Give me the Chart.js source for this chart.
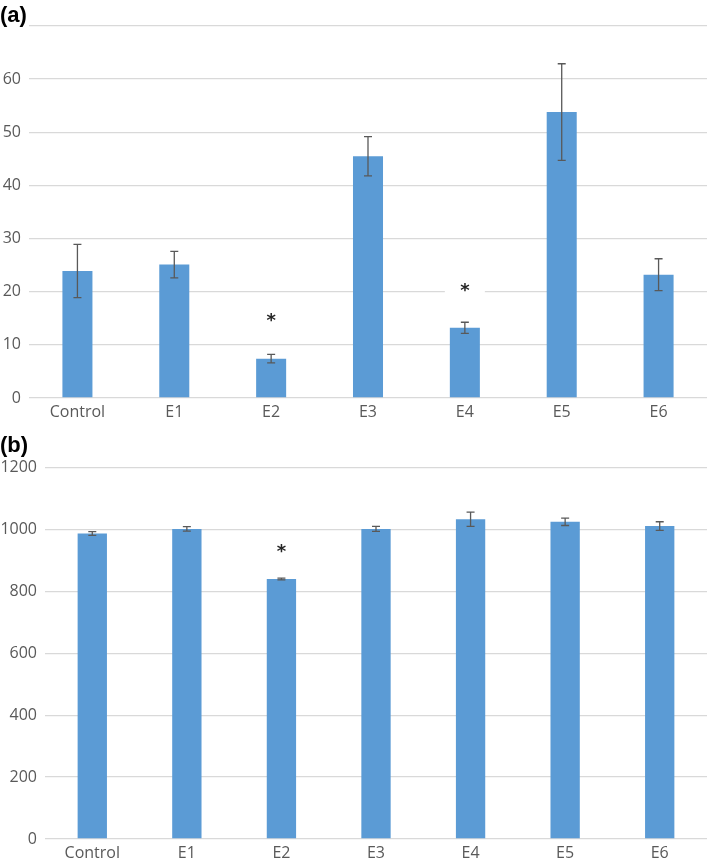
<!DOCTYPE html>
<html>
<head>
<meta charset="utf-8">
<script src="https://cdn.jsdelivr.net/npm/chart.js@4.4.0/dist/chart.umd.min.js"></script>
<style>
  html, body { margin: 0; padding: 0; background: #fff; }
  .wrap { position: relative; width: 709px; height: 866px; overflow: hidden; }
  .panel { position: absolute; left: 0; }
  .tag { position: absolute; left: 0; font: bold 22px "Liberation Sans", Arial, sans-serif; line-height: 1; color: #000; }
</style>
</head>
<body>
<div class="wrap">
  <canvas id="chartA" class="panel" style="top:0" width="709" height="425"></canvas>
  <canvas id="chartB" class="panel" style="top:425px" width="709" height="441"></canvas>
  <div class="tag" style="top:4px">(a)</div>
  <div class="tag" style="top:434px">(b)</div>
</div>
<script>
// categorias e valores
const groups = ["Control", "E1", "E2", "E3", "E4", "E5", "E6"];

const valuesA = [23.9, 25.1, 7.4, 45.5, 13.2, 53.8, 23.2];
const errorsA = [5.0, 2.5, 0.8, 3.7, 1.05, 9.1, 3.0];
const starsA  = [null, null, 15.2, null, 20.8, null, null]; // posição do asterisco

const valuesB = [987, 1002, 840, 1002, 1033, 1025, 1011];
const errorsB = [6, 7, 3, 8, 23, 12, 14];
const starsB  = [null, null, 937, null, null, null, null];

const BAR_COLOR = "#5B9BD5";
const GRID_COLOR = "#D9D9D9";
const TEXT_COLOR = "#595959";
const FONT = "'Open Sans', 'Liberation Sans', sans-serif";

// barras de erro + asteriscos desenhados por cima das barras
const extrasPlugin = {
  id: "extras",
  afterDatasetsDraw(chart, args, opts) {
    const ctx = chart.ctx;
    const x = chart.scales.x;
    const y = chart.scales.y;
    const vals = chart.data.datasets[0].data;

    ctx.save();
    ctx.strokeStyle = "#595959";
    ctx.lineWidth = 1.3;
    vals.forEach((v, i) => {
      const e = opts.errors[i];
      const px = x.getPixelForValue(i);
      const top = y.getPixelForValue(v + e);
      const bot = y.getPixelForValue(v - e);
      ctx.beginPath();
      ctx.moveTo(px, top); ctx.lineTo(px, bot);
      ctx.moveTo(px - 4, top); ctx.lineTo(px + 4, top);
      ctx.moveTo(px - 4, bot); ctx.lineTo(px + 4, bot);
      ctx.stroke();
    });

    ctx.font = "bold 18px 'DejaVu Sans', sans-serif";
    ctx.textAlign = "center";
    ctx.textBaseline = "alphabetic";
    const m = ctx.measureText("*");
    const a = m.actualBoundingBoxAscent, d = m.actualBoundingBoxDescent;
    opts.stars.forEach((s, i) => {
      if (s == null) return;
      const px = x.getPixelForValue(i);
      const py = y.getPixelForValue(s);
      ctx.fillStyle = "#fff";
      ctx.fillRect(px - 20, py - 6, 40, 12);
      ctx.fillStyle = "#262626";
      ctx.fillText("*", px, py + (a - d) / 2);
    });
    ctx.restore();
  }
};

function makeChart(id, values, errors, stars, max, step, yWidth, padTop, hideTop) {
  return new Chart(document.getElementById(id), {
    type: "bar",
    data: {
      labels: groups,
      datasets: [{
        data: values,
        backgroundColor: BAR_COLOR,
        borderWidth: 0,
        barPercentage: 1,
        categoryPercentage: 0.31,
      }],
    },
    options: {
      responsive: false,
      animation: false,
      events: [],
      layout: { padding: { top: padTop, right: 2, left: 0, bottom: 0 } },
      plugins: {
        legend: { display: false },
        tooltip: { enabled: false },
        extras: { errors, stars },
      },
      scales: {
        x: {
          grid: { display: false, drawTicks: false },
          border: { display: false },
          ticks: { color: TEXT_COLOR, font: { family: FONT, size: 16 }, padding: 5, maxRotation: 0 },
          afterFit(s) { s.height = 27; },
        },
        y: {
          min: 0,
          max: max,
          grid: { color: GRID_COLOR, lineWidth: 1.3, drawTicks: false },
          border: { display: false },
          ticks: {
            stepSize: step,
            color: TEXT_COLOR,
            font: { family: FONT, size: 16 },
            padding: 8,
            callback: (v) => (hideTop && v === max ? "" : v),
          },
          afterFit(s) { s.width = yWidth; },
        },
      },
    },
    plugins: [extrasPlugin],
  });
}

makeChart("chartA", valuesA, errorsA, starsA, 70, 10, 29, 26, true);
makeChart("chartB", valuesB, errorsB, starsB, 1200, 200, 45, 42.6, false);
</script>
</body>
</html>
